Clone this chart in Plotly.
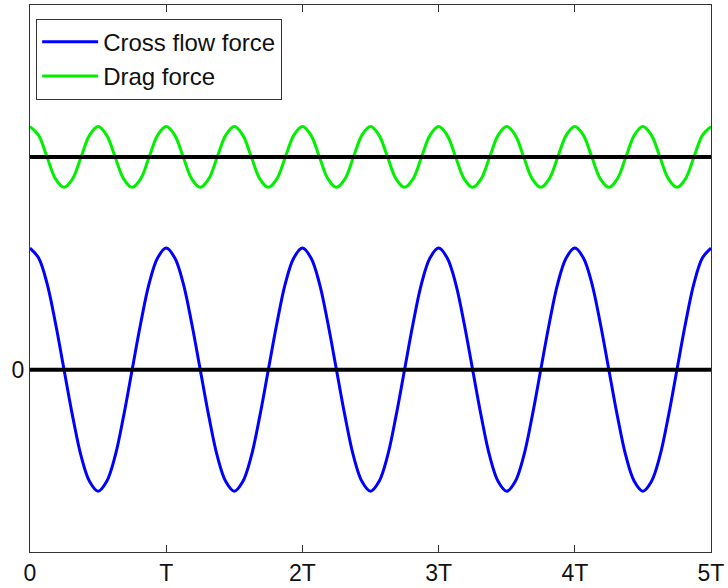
import plotly.graph_objects as go

# Time axis in units of the period T
tick_vals = [0, 1, 2, 3, 4, 5]
tick_text = ["0", "T", "2T", "3T", "4T", "5T"]

cross_t = [i / 16 for i in range(81)]
cross_y = [
    1.0, 0.92, 0.71, 0.38, 0.0, -0.38, -0.71, -0.92, -1.0, -0.92, -0.71, -0.38, 0.0, 0.38, 0.71, 0.92,
    1.0, 0.92, 0.71, 0.38, 0.0, -0.38, -0.71, -0.92, -1.0, -0.92, -0.71, -0.38, 0.0, 0.38, 0.71, 0.92,
    1.0, 0.92, 0.71, 0.38, 0.0, -0.38, -0.71, -0.92, -1.0, -0.92, -0.71, -0.38, 0.0, 0.38, 0.71, 0.92,
    1.0, 0.92, 0.71, 0.38, 0.0, -0.38, -0.71, -0.92, -1.0, -0.92, -0.71, -0.38, 0.0, 0.38, 0.71, 0.92,
    1.0, 0.92, 0.71, 0.38, 0.0, -0.38, -0.71, -0.92, -1.0, -0.92, -0.71, -0.38, 0.0, 0.38, 0.71, 0.92,
    1.0,
]

drag_t = [i / 16 for i in range(81)]
drag_y = [
    2.0, 1.93, 1.75, 1.57, 1.5, 1.57, 1.75, 1.93,
    2.0, 1.93, 1.75, 1.57, 1.5, 1.57, 1.75, 1.93,
    2.0, 1.93, 1.75, 1.57, 1.5, 1.57, 1.75, 1.93,
    2.0, 1.93, 1.75, 1.57, 1.5, 1.57, 1.75, 1.93,
    2.0, 1.93, 1.75, 1.57, 1.5, 1.57, 1.75, 1.93,
    2.0, 1.93, 1.75, 1.57, 1.5, 1.57, 1.75, 1.93,
    2.0, 1.93, 1.75, 1.57, 1.5, 1.57, 1.75, 1.93,
    2.0, 1.93, 1.75, 1.57, 1.5, 1.57, 1.75, 1.93,
    2.0, 1.93, 1.75, 1.57, 1.5, 1.57, 1.75, 1.93,
    2.0, 1.93, 1.75, 1.57, 1.5, 1.57, 1.75, 1.93,
    2.0,
]

# Mean levels (black horizontal lines)
mean_levels = [0.0, 1.75]
time_span = [0, 5]

FONT = "Liberation Sans, Arial, sans-serif"

fig = go.Figure()
fig.add_trace(go.Scatter(
    x=cross_t, y=cross_y, mode="lines", name="Cross flow force",
    line=dict(color="#0000FF", width=3, shape="spline"),
))
fig.add_trace(go.Scatter(
    x=drag_t, y=drag_y, mode="lines", name="Drag force",
    line=dict(color="#00F000", width=3, shape="spline"),
))
for lvl in mean_levels:
    fig.add_trace(go.Scatter(
        x=time_span, y=[lvl, lvl], mode="lines", showlegend=False,
        line=dict(color="black", width=4), hoverinfo="skip",
    ))

fig.update_layout(
    width=728, height=588,
    margin=dict(l=30, r=17, t=5, b=36, autoexpand=False),
    paper_bgcolor="white", plot_bgcolor="white",
    font=dict(family=FONT, size=23, color="#111"),
    legend=dict(
        x=0.009, y=0.975, xanchor="left", yanchor="top",
        bgcolor="white", bordercolor="#333", borderwidth=1,
        font=dict(family=FONT, size=24, color="#111"),
        itemwidth=56, tracegroupgap=0,
    ),
    showlegend=True,
)
fig.update_xaxes(
    range=[0, 5], tickvals=tick_vals, ticktext=tick_text, automargin=False,
    showgrid=False, zeroline=False, showline=True, linecolor="#333", linewidth=1,
    mirror="ticks", ticks="inside", ticklen=7, tickcolor="#333",
    tickfont=dict(family=FONT, size=23, color="#111"),
)
fig.update_yaxes(
    range=[-1.5, 3], tickvals=[0], ticktext=["0"], automargin=False,
    showgrid=False, zeroline=False, showline=True, linecolor="#333", linewidth=1,
    mirror=True, ticks="",
    tickfont=dict(family=FONT, size=23, color="#111"),
)

fig.write_html(
    "out.html",
    config={"displayModeBar": False},
    post_script="document.body.style.margin='0';document.body.style.overflow='hidden';",
)
